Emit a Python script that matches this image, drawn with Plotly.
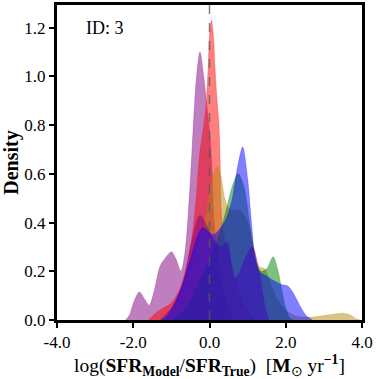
import plotly.graph_objects as go

# KDE curves (x = log ratio, y = density)
purple_a_x = [-2.2, -2.1, -1.97, -1.84, -1.7, -1.58, -1.45, -1.3, -1.2, -1.0, -0.88, -0.75, -0.65, -0.55,
              -0.45, -0.35, -0.25, -0.15, -0.05, 0.02, 0.07, 0.12, 0.2, 0.35, 0.5, 0.6]
purple_a_y = [0.0, 0.02, 0.08, 0.115, 0.085, 0.06, 0.12, 0.22, 0.245, 0.28, 0.25, 0.2, 0.27, 0.45,
              0.72, 0.98, 1.10, 1.0, 0.85, 0.74, 0.6, 0.4, 0.28, 0.12, 0.04, 0.0]

red_x = [-1.6, -1.4, -1.2, -1.0, -0.8, -0.6, -0.45, -0.35, -0.26, -0.15, -0.08, -0.03, 0.0, 0.05,
         0.1, 0.15, 0.2, 0.25, 0.28, 0.31, 0.36, 0.45, 0.6, 0.8, 1.0, 1.2]
red_y = [0.0, 0.03, 0.05, 0.07, 0.12, 0.22, 0.35, 0.5, 0.68, 0.8, 0.9, 1.06, 1.17, 1.23,
         1.17, 1.02, 0.9, 0.8, 0.65, 0.45, 0.36, 0.3, 0.22, 0.1, 0.04, 0.0]

gold_x = [-1.3, -0.9, -0.6, -0.3, -0.1, 0.1, 0.2, 0.3, 0.4, 0.5, 0.65, 0.8, 1.0, 1.15, 1.3, 1.45,
          1.6, 1.8, 2.0, 2.3, 2.7, 3.0, 3.3, 3.5, 3.7, 3.85, 3.95]
gold_y = [0.0, 0.05, 0.15, 0.3, 0.42, 0.6, 0.63, 0.59, 0.5, 0.46, 0.45, 0.45, 0.4, 0.3, 0.22, 0.21,
          0.15, 0.08, 0.04, 0.015, 0.012, 0.018, 0.025, 0.028, 0.02, 0.005, 0.0]

green_x = [-1.0, -0.6, -0.3, 0.0, 0.2, 0.35, 0.45, 0.6, 0.75, 0.9, 1.05, 1.2, 1.35, 1.5, 1.67,
           1.8, 1.9, 2.0, 2.1, 2.2]
green_y = [0.0, 0.05, 0.15, 0.25, 0.33, 0.4, 0.46, 0.55, 0.6, 0.55, 0.4, 0.25, 0.2, 0.21, 0.26,
           0.2, 0.12, 0.05, 0.01, 0.0]

purple_b_x = [-1.3, -1.0, -0.7, -0.5, -0.25, -0.05, 0.1, 0.3, 0.47, 0.58, 0.66, 0.8, 0.95, 1.13,
              1.3, 1.45, 1.55]
purple_b_y = [0.0, 0.05, 0.15, 0.3, 0.43, 0.38, 0.33, 0.3, 0.32, 0.22, 0.17, 0.2, 0.26, 0.3,
              0.2, 0.06, 0.0]

blue_x = [-1.25, -1.1, -0.9, -0.7, -0.5, -0.35, -0.18, 0.1, 0.3, 0.45, 0.6, 0.75, 0.87, 1.0,
          1.1, 1.2, 1.3, 1.5, 1.7, 1.9, 2.05, 2.2, 2.4, 2.55, 2.7]
blue_y = [0.0, 0.02, 0.07, 0.15, 0.25, 0.33, 0.38, 0.35, 0.38, 0.42, 0.5, 0.64, 0.71, 0.58,
          0.4, 0.25, 0.2, 0.18, 0.16, 0.145, 0.14, 0.11, 0.05, 0.015, 0.0]

series = [
    (purple_a_x, purple_a_y, 'rgba(128,0,128,0.5)'),
    (red_x, red_y, 'rgba(255,0,0,0.5)'),
    (gold_x, gold_y, 'rgba(184,134,11,0.5)'),
    (green_x, green_y, 'rgba(0,128,0,0.5)'),
    (purple_b_x, purple_b_y, 'rgba(128,0,128,0.5)'),
    (blue_x, blue_y, 'rgba(0,0,255,0.5)'),
]

fig = go.Figure()
for xs, ys, col in series:
    fig.add_trace(go.Scatter(x=xs, y=ys, mode='lines', fill='tozeroy', fillcolor=col,
                             line=dict(color=col, width=0.5, shape='spline', smoothing=0.8),
                             hoverinfo='skip', showlegend=False))

# vertical reference at zero
fig.add_shape(type='line', x0=0, x1=0, y0=0, y1=1, xref='x', yref='paper',
              line=dict(color='rgba(90,90,90,0.75)', width=1.5, dash='dash'))

fig.add_annotation(x=-3.3, y=1.2, text='ID: 3', showarrow=False, xanchor='left',
                   font=dict(size=18, color='black'))

serif = 'Liberation Serif, Times New Roman, serif'
fig.update_layout(
    width=379, height=379,
    margin=dict(l=57, r=17, t=5, b=59, autoexpand=False),
    plot_bgcolor='white', paper_bgcolor='white',
    font=dict(family=serif, size=17, color='black'),
)
fig.update_xaxes(range=[-4, 4], tickvals=[-4, -2, 0, 2, 4],
                 ticktext=['-4.0', '-2.0', '0.0', '2.0', '4.0'],
                 showgrid=False, zeroline=False, showline=True, linecolor='black', linewidth=3,
                 mirror=True, ticks='outside', ticklen=5, tickwidth=1.5, tickcolor='black',
                 title=dict(text='log(<b>SFR</b><sub><b>Model</b></sub>/<b>SFR</b><sub><b>True</b></sub>)'
                                 '  [<b>M</b><sub>⊙</sub> yr<sup><b>−1</b></sup>]',
                            font=dict(size=19.5), standoff=3))
fig.update_yaxes(range=[0, 1.293], tickvals=[0, 0.2, 0.4, 0.6, 0.8, 1.0, 1.2],
                 ticktext=['0.0', '0.2', '0.4', '0.6', '0.8', '1.0', '1.2'],
                 showgrid=False, zeroline=False, showline=True, linecolor='black', linewidth=3,
                 mirror=True, ticks='outside', ticklen=5, tickwidth=1.5, tickcolor='black',
                 title=dict(text='<b>Density</b>', font=dict(size=20), standoff=2))

# drop the default page margin so the figure sits at the window's corner
fig.write_html("out.html", config={'displayModeBar': False},
               post_script="document.body.style.margin='0';")
